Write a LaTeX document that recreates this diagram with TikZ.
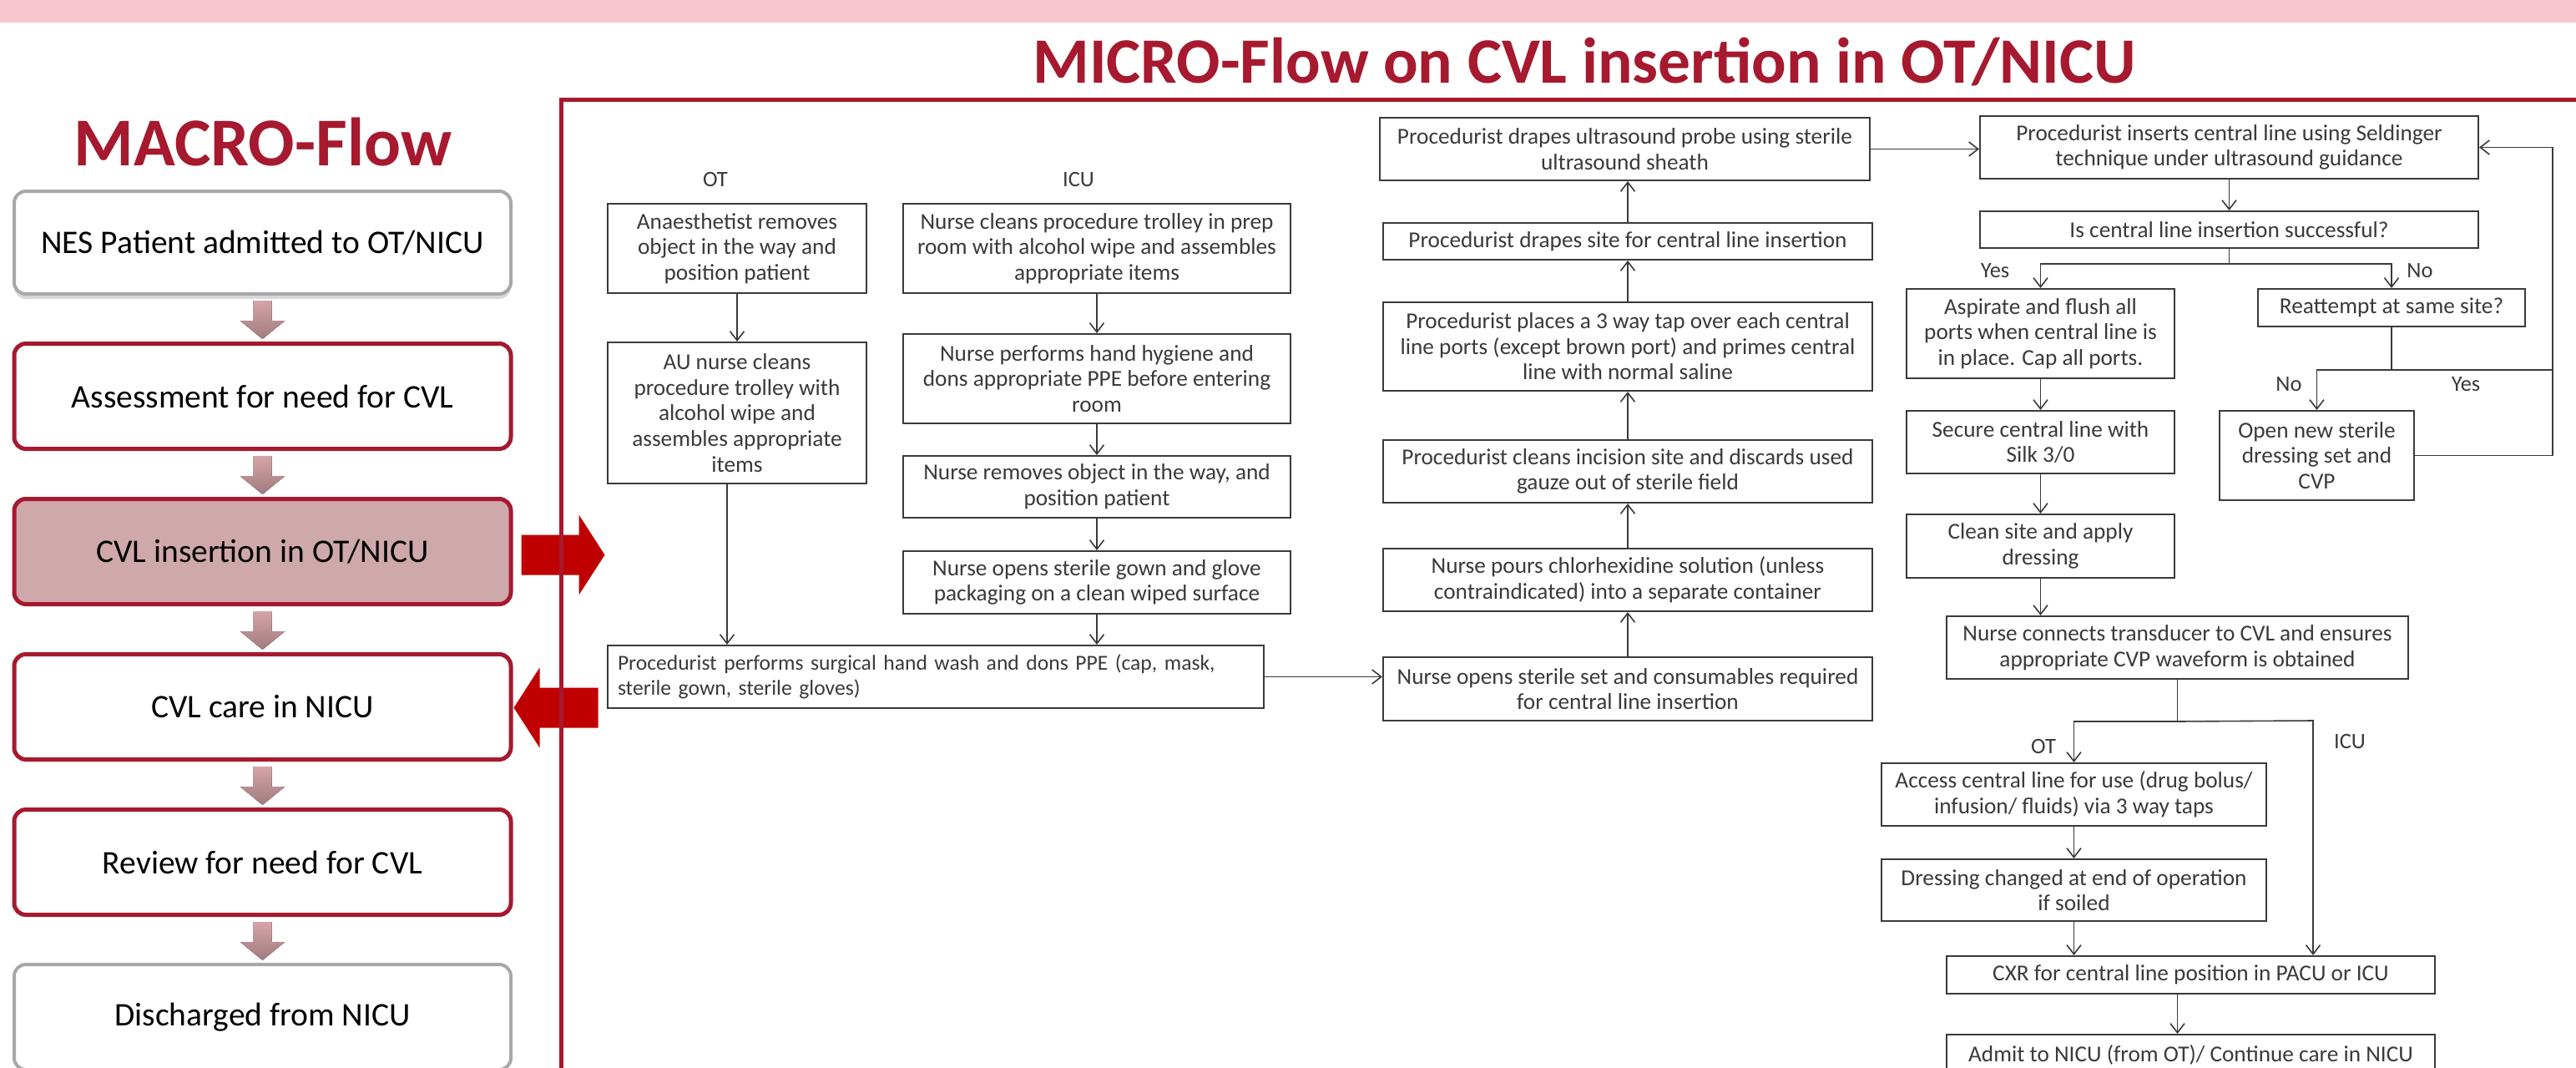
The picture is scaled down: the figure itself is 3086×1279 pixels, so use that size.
\documentclass[tikz,border=0pt]{standalone}
\usepackage{fontspec}
\setmainfont{Carlito}
\usetikzlibrary{shapes,arrows.meta,positioning,calc,shadows}

\definecolor{cvlred}{HTML}{A6192E}
\definecolor{blockred}{HTML}{C00000}
\definecolor{bandpink}{HTML}{F7C6CF}
\definecolor{activefill}{HTML}{CFA8AC}
\definecolor{greyedge}{HTML}{A8A8A8}
\definecolor{inkgrey}{HTML}{3A3A3A}
\definecolor{arrowtop}{HTML}{D6A4A8}
\definecolor{arrowbot}{HTML}{A17B7F}

\begin{document}
\begin{tikzpicture}[
    x=1pt, y=-1pt,
    node distance=55pt,
    macrobox/.style={rectangle, draw=cvlred, line width=5pt, rounded corners=14pt, fill=white, minimum width=595pt, minimum height=126pt, align=center, text=black, font={\fontsize{39.5}{47}\selectfont}},
    stepbox/.style={rectangle, draw=inkgrey, line width=2pt, fill=white, align=center, text=inkgrey, inner sep=2pt, font={\fontsize{27.3}{30.6}\selectfont}},
    lbl/.style={text=inkgrey, inner sep=0pt, font={\fontsize{26.5}{30}\selectfont}},
    arrow/.style={-{Straight Barb[length=11pt,width=17pt]}, draw=inkgrey, line width=1.6pt},
    link/.style={draw=inkgrey, line width=1.6pt},
    macroarrow/.style={top color=arrowtop, bottom color=arrowbot},
    bigarrow/.style={fill=blockred}
]
\useasboundingbox (0,0) rectangle (3086,1279);
\fill[bandpink] (0,0) rectangle (3086,27);

\node[font={\fontsize{82}{90}\selectfont\bfseries}, text=cvlred, anchor=base] (macrotitle) at (315,198) {MACRO-Flow};
\node[font={\fontsize{77.5}{82}\selectfont\bfseries}, text=cvlred, anchor=base] (microtitle) at (1898,100) {MICRO-Flow on CVL insertion in OT/NICU};

\node[macrobox, draw=greyedge, line width=4pt, minimum height=123pt, drop shadow={shadow xshift=0pt, shadow yshift=-6pt, opacity=0.3}] (m1) at (314.5,290.5) {NES Patient admitted to OT/NICU};
\node[macrobox, below=of m1] (m2) {Assessment for need for CVL};
\node[macrobox, below=of m2, fill=activefill] (m3) {CVL insertion in OT/NICU};
\node[macrobox, below=of m3] (m4) {CVL care in NICU};
\node[macrobox, below=of m4] (m5) {Review for need for CVL};
\node[macrobox, below=of m5, draw=greyedge, line width=4pt] (m6) {Discharged from NICU};

\fill[macroarrow] ($(m1.south)+(-11,6)$) -- ++(22,0) -- ++(0,24) -- ++(16,0) -- ($(m2.north)+(0,-3)$) -- ++(-27,-22) -- ++(16,0) -- cycle;
\fill[macroarrow] ($(m2.south)+(-11,6)$) -- ++(22,0) -- ++(0,24) -- ++(16,0) -- ($(m3.north)+(0,-3)$) -- ++(-27,-22) -- ++(16,0) -- cycle;
\fill[macroarrow] ($(m3.south)+(-11,6)$) -- ++(22,0) -- ++(0,24) -- ++(16,0) -- ($(m4.north)+(0,-3)$) -- ++(-27,-22) -- ++(16,0) -- cycle;
\fill[macroarrow] ($(m4.south)+(-11,6)$) -- ++(22,0) -- ++(0,24) -- ++(16,0) -- ($(m5.north)+(0,-3)$) -- ++(-27,-22) -- ++(16,0) -- cycle;
\fill[macroarrow] ($(m5.south)+(-11,6)$) -- ++(22,0) -- ++(0,24) -- ++(16,0) -- ($(m6.north)+(0,-3)$) -- ++(-27,-22) -- ++(16,0) -- cycle;

\fill[bigarrow] ($(m3.east)+(10,-20)$) -- ++(69,0) -- ++(0,-24) -- ++(31,48) -- ++(-31,48) -- ++(0,-24) -- ++(-69,0) -- cycle;
\fill[bigarrow] ($(m4.east)+(1,1)$) -- ++(31,-48) -- ++(0,24) -- ++(70,0) -- ++(0,48) -- ++(-70,0) -- ++(0,24) -- cycle;

\draw[cvlred, line width=5pt] (3090,120) -- (672,120) -- (672,1290);

\node[lbl] (otlbl) at (857,215) {OT};
\node[lbl] (iculbl) at (1292,215) {ICU};

\node[stepbox, minimum width=310pt, minimum height=107pt] (anaes) at (883,297.5) {Anaesthetist removes\\object in the way and\\position patient};
\node[stepbox, minimum width=310pt, minimum height=169pt] (aunurse) at (883,494.5) {AU nurse cleans\\procedure trolley with\\alcohol wipe and\\assembles appropriate\\items};
\node[stepbox, minimum width=464pt, minimum height=107pt] (trolley) at (1314,297.5) {Nurse cleans procedure trolley in prep\\room with alcohol wipe and assembles\\appropriate items};
\node[stepbox, minimum width=464pt, minimum height=107pt] (hygiene) at (1314,453.5) {Nurse performs hand hygiene and\\dons appropriate PPE before entering\\room};
\node[stepbox, minimum width=464pt, minimum height=74pt] (position) at (1314,583) {Nurse removes object in the way, and\\position patient};
\node[stepbox, minimum width=464pt, minimum height=75pt] (gown) at (1314,697.5) {Nurse opens sterile gown and glove\\packaging on a clean wiped surface};
\node[stepbox, minimum width=786pt, minimum height=75pt, text width=762pt, inner xsep=12pt, align=left, font={\fontsize{25.6}{30.6}\selectfont}] (handwash) at (1121,810.5) {Procedurist performs surgical hand wash and dons PPE (cap, mask,\\sterile gown, sterile gloves)};

\node[stepbox, minimum width=586pt, minimum height=76pt] (sterset) at (1950,825) {Nurse opens sterile set and consumables required\\for central line insertion};
\node[stepbox, minimum width=586pt, minimum height=75pt] (chlor) at (1950,694.5) {Nurse pours chlorhexidine solution (unless\\contraindicated) into a separate container};
\node[stepbox, minimum width=586pt, minimum height=75pt] (incision) at (1950,564.5) {Procedurist cleans incision site and discards used\\gauze out of sterile field};
\node[stepbox, minimum width=586pt, minimum height=106pt] (tap) at (1950,415) {Procedurist places a 3 way tap over each central\\line ports (except brown port) and primes central\\line with normal saline};
\node[stepbox, minimum width=586pt, minimum height=44pt] (drape) at (1950,289) {Procedurist drapes site for central line insertion};
\node[stepbox, minimum width=587pt, minimum height=75pt] (probe) at (1946.5,178.5) {Procedurist drapes ultrasound probe using sterile\\ultrasound sheath};

\node[stepbox, minimum width=597pt, minimum height=75pt] (insert) at (2670.5,176.5) {Procedurist inserts central line using Seldinger\\technique under ultrasound guidance};
\node[stepbox, minimum width=597pt, minimum height=44pt] (success) at (2670.5,275) {Is central line insertion successful?};
\node[stepbox, minimum width=321pt, minimum height=107pt] (flush) at (2444.5,399.5) {Aspirate and flush all\\ports when central line is\\in place. Cap all ports.};
\node[stepbox, minimum width=320pt, minimum height=45pt] (retry) at (2865,368.5) {Reattempt at same site?};
\node[stepbox, minimum width=233pt, minimum height=107pt] (newset) at (2775.5,545.5) {Open new sterile\\dressing set and\\CVP};
\node[stepbox, minimum width=321pt, minimum height=75pt] (secure) at (2444.5,529.5) {Secure central line with\\Silk 3/0};
\node[stepbox, minimum width=321pt, minimum height=76pt] (dress) at (2444.5,654) {Clean site and apply\\dressing};
\node[stepbox, minimum width=553pt, minimum height=75pt] (transducer) at (2608.5,775.5) {Nurse connects transducer to CVL and ensures\\appropriate CVP waveform is obtained};
\node[stepbox, minimum width=461pt, minimum height=75pt] (access) at (2484.5,951.5) {Access central line for use (drug bolus/\\infusion/ fluids) via 3 way taps};
\node[stepbox, minimum width=461pt, minimum height=74pt] (change) at (2484.5,1066) {Dressing changed at end of operation\\if soiled};
\node[stepbox, minimum width=585pt, minimum height=45pt] (cxr) at (2624.5,1167.5) {CXR for central line position in PACU or ICU};
\node[stepbox, minimum width=585pt, minimum height=48pt] (admit) at (2624.5,1263) {Admit to NICU (from OT)/ Continue care in NICU};

\node[lbl] (yes1) at (2390,324) {Yes};
\node[lbl] (no1) at (2899,324) {No};
\node[lbl] (no2) at (2742,460) {No};
\node[lbl] (yes2) at (2954,460) {Yes};
\node[lbl] (ot2) at (2448,894) {OT};
\node[lbl] (icu2) at (2815,888) {ICU};

\coordinate (back) at (3058,442);
\coordinate (icu) at (2771,863);

\draw[arrow] (anaes) -- (aunurse);
\draw[arrow] ([xshift=-12pt]aunurse.south) -- ([xshift=-12pt]aunurse.south |- handwash.north);
\draw[arrow] (trolley) -- (hygiene);
\draw[arrow] (hygiene) -- (position);
\draw[arrow] (position) -- (gown);
\draw[arrow] (gown.south) -- (gown.south |- handwash.north);
\draw[arrow] (handwash.east) -- (handwash.east -| sterset.west);
\draw[arrow] (sterset) -- (chlor);
\draw[arrow] (chlor) -- (incision);
\draw[arrow] (incision) -- (tap);
\draw[arrow] (tap) -- (drape);
\draw[arrow] (drape.north) -- (drape.north |- probe.south);
\draw[arrow] (probe.east) -- (probe.east -| insert.west);
\draw[arrow] (insert) -- (success);
\draw[link] (success.south) -- ++(0,18) coordinate (ksplit);
\draw[arrow] (ksplit) -| (flush.north);
\draw[arrow] (ksplit) -| (retry.north);
\draw[link] (retry.south) -- ++(0,51) coordinate (msplit);
\draw[arrow] (msplit) -| (newset.north);
\draw[link] (msplit) -- (msplit -| back);
\draw[arrow] (newset.east) -- (newset.east -| back) |- (insert.east);
\draw[arrow] (flush) -- (secure);
\draw[arrow] (secure) -- (dress);
\draw[arrow] (dress.south) -- (dress.south |- transducer.north);
\draw[link] (transducer.south) -- ++(0,50) coordinate (qsplit);
\draw[arrow] (qsplit) -| (access.north);
\draw[arrow] (qsplit) -- (icu) -- (icu |- cxr.north);
\draw[arrow] (access) -- (change);
\draw[arrow] (change.south) -- (change.south |- cxr.north);
\draw[arrow] (transducer.south |- cxr.south) -- (transducer.south |- admit.north);
\end{tikzpicture}
\end{document}
